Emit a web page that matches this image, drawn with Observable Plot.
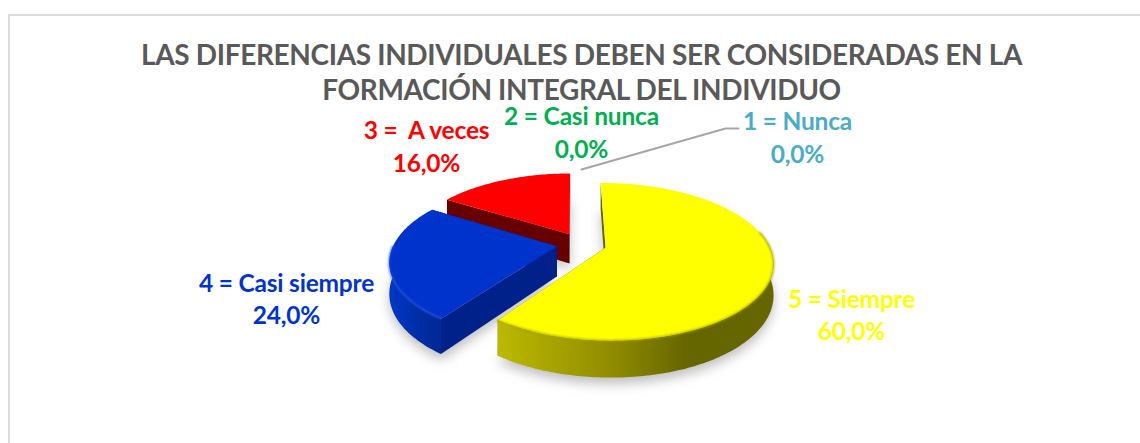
<!DOCTYPE html>
<html lang="es">
<head>
<meta charset="utf-8">
<script src="https://cdn.jsdelivr.net/npm/d3@7"></script>
<script src="https://cdn.jsdelivr.net/npm/@observablehq/plot@0.6"></script>
<style>
html,body{margin:0;padding:0;background:#fff;overflow:hidden}
svg{display:block}
.soft{filter:blur(6px)}
.rim{filter:blur(1px)}
.ttl text{letter-spacing:-0.35px}
.lbl text{letter-spacing:-0.2px}
</style>
</head>
<body>
<script>
// ---- data ----
const titleLines = ["LAS DIFERENCIAS INDIVIDUALES DEBEN SER CONSIDERADAS EN LA", "FORMACIÓN INTEGRAL DEL INDIVIDUO"];
const categories = ["5 = Siempre", "4 = Casi siempre", "3 =  A veces", "2 = Casi nunca", "1 = Nunca"];
const shares = [60, 24, 16, 0, 0];
const shareLabels = ["60,0%", "24,0%", "16,0%", "0,0%", "0,0%"];

// ---- styling and layout ----
const W = 1140, H = 443;
const labelColors = ["#ffff00", "#0033cc", "#ff0000", "#00b050", "#4bacc6"];
const labelX = [851, 286, 426, 581, 797];
const labelY = [[300, 332], [284, 316], [131, 164], [117, 150], [122, 155]];
const titleY = [56, 91];
const leaderX = [581, 725, 738], leaderY = [169, 128, 128];
const faces = [
  {top: "#ffff00", wall: "url(#wallY)", cut: "#666600", rim: "#a3a300", from: 78, to: 270},
  {top: "#0033cc", wall: "url(#wallB)", cut: "#00218a", rim: "#1f50e0", from: 78, to: 270},
  {top: "#ff0000", wall: "#660000", cut: "#660000", rim: "#ff0000", from: 270, to: 270}
];
const pie = {cx: 581, cy: 243.5, r: 163, tilt: 0.46, persp: 0.18, explode: 25, depth: 30, start: -0.5};

function project(X, Y, z) {
  const s = 1 / (1 + pie.persp * Y / pie.r);
  return {x: pie.cx + X * s, y: pie.cy - pie.tilt * Y * s + z * s};
}
const rad = d => d * Math.PI / 180;
function slicePoint(off, a, radius, z) {
  return project(off[0] + radius * Math.sin(rad(a)), off[1] + radius * Math.cos(rad(a)), z);
}
function arc(off, a0, a1, z) {
  const pts = [], n = Math.max(2, Math.ceil(Math.abs(a1 - a0)));
  for (let i = 0; i <= n; i++) pts.push(slicePoint(off, a0 + (a1 - a0) * i / n, pie.r, z));
  return pts;
}

const total = d3.sum(shares);
const marks = [];
const poly = (pts, opt) => Plot.line(pts, {x: "x", y: "y", curve: "linear", stroke: "none", ...opt});

// frame of the chart area
marks.push(Plot.ruleY([0], {y: () => 14.5, x1: 8.5, x2: W, stroke: "#dcdcdc", strokeWidth: 2}));
marks.push(Plot.ruleX([0], {x: () => 8.5, y1: 14.5, y2: H, stroke: "#dcdcdc", strokeWidth: 2}));

// gradient definitions
marks.push(() => {
  const defs = d3.create("svg:defs");
  const grad = (id, stops) => {
    const g = defs.append("linearGradient").attr("id", id);
    stops.forEach(([o, c]) => g.append("stop").attr("offset", o).attr("stop-color", c));
  };
  grad("wallY", [[0, "#bdb900"], [0.42, "#8f8b00"], [0.68, "#666600"], [1, "#666600"]]);
  grad("wallB", [[0, "#0037c4"], [0.55, "#002ea8"], [1, "#002792"]]);
  return defs.node();
});

// slices, back to front: red, blue, yellow
let acc = pie.start;
const slices = shares.map((v, i) => {
  const a0 = acc, a1 = acc + 360 * v / total;
  acc = a1;
  const mid = (a0 + a1) / 2;
  return {i, v, a0, a1, off: [pie.explode * Math.sin(rad(mid)), pie.explode * Math.cos(rad(mid))]};
}).filter(d => d.v > 0);

// soft shadow under the pie
for (const s of slices) {
  const pts = [project(s.off[0], s.off[1], pie.depth + 5), ...arc(s.off, s.a0, s.a1, pie.depth + 5)];
  marks.push(poly(pts, {fill: "#000", fillOpacity: 0.25, className: "soft"}));
}

for (const s of [...slices].reverse()) {
  const f = faces[s.i];
  const apexT = project(s.off[0], s.off[1], 0), apexB = project(s.off[0], s.off[1], pie.depth);
  // cut faces
  for (const a of [s.a0, s.a1]) {
    marks.push(poly([apexT, slicePoint(s.off, a, pie.r, 0), slicePoint(s.off, a, pie.r, pie.depth), apexB], {fill: f.cut}));
  }
  // outer wall (front part)
  const w0 = Math.max(s.a0, f.from), w1 = Math.min(s.a1, f.to);
  if (w1 > w0) {
    marks.push(poly([...arc(s.off, w0, w1, 0), ...arc(s.off, w1, w0, pie.depth)], {fill: f.wall}));
  }
  // top
  const topArc = arc(s.off, s.a0, s.a1, 0);
  marks.push(poly([apexT, ...topArc], {fill: f.top}));
  // bevel on the front rim
  if (w1 > w0) {
    marks.push(poly(arc(s.off, w0, w1, 0), {stroke: f.rim, strokeWidth: 1.5, fill: "none", className: "rim"}));
  }
}

// leader line
marks.push(Plot.line(leaderX.map((x, i) => ({x, y: leaderY[i]})), {x: "x", y: "y", stroke: "#a6a6a6", strokeWidth: 2}));

// texts
marks.push(Plot.text(titleLines, {
  x: () => 581, y: (d, i) => titleY[i], text: d => d, fill: "#595959", className: "ttl",
  fontSize: 28, fontWeight: 700, fontFamily: "Lato", textAnchor: "middle"
}));
categories.forEach((c, i) => {
  marks.push(Plot.text([c, shareLabels[i]], {
    x: () => labelX[i], y: (d, j) => labelY[i][j], text: d => d, fill: labelColors[i], className: "lbl",
    fontSize: 24.5, fontWeight: 700, fontFamily: "Lato", textAnchor: "middle"
  }));
});

const chart = Plot.plot({
  width: W, height: H, margin: 0,
  x: {domain: [0, W], range: [0, W], axis: null},
  y: {domain: [0, H], range: [0, H], axis: null},
  style: {background: "#fff"},
  marks
});
document.body.appendChild(chart);
</script>
</body>
</html>
